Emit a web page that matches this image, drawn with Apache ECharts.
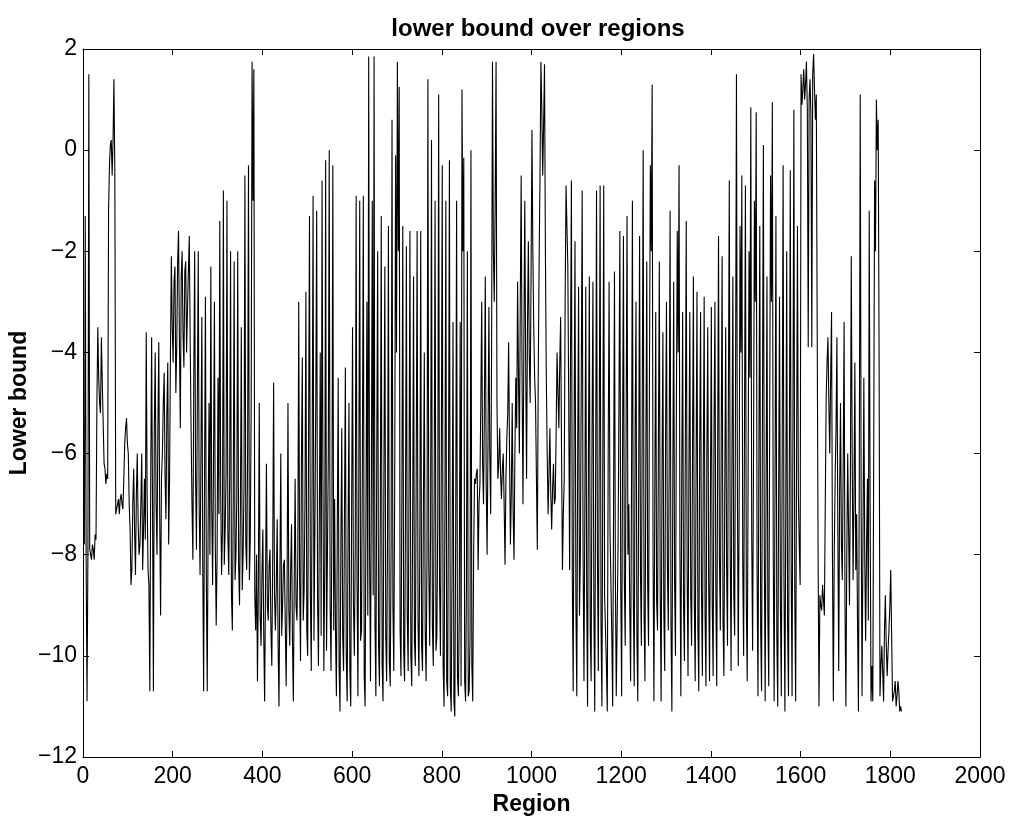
<!DOCTYPE html>
<html>
<head>
<meta charset="utf-8">
<script src="https://cdn.jsdelivr.net/npm/echarts@6/dist/echarts.min.js"></script>
<style>
html,body{margin:0;padding:0;background:#fff;}
#chart{width:1013px;height:821px;}
</style>
</head>
<body>
<div id="chart"></div>
<script>
// Region index of first sample and spacing between samples (regions)
const regionStart = 1;
const regionStep = 4;
// Lower bound values at regions 1, 5, 9, ...
const lowerBound = [
 -7.0,-1.3,-10.9,1.5,-8.0,-7.8,-8.1,-7.7,-3.5,-5.0,-3.7,-5.4,-6.3,-6.4,-1.2,0.1,-0.5,1.4,-7.2,-7.0,
 -7.2,-6.8,-7.1,-5.8,-5.3,-6.0,-7.5,-8.3,-6.3,-8.4,-6.0,-8.0,-7.0,-8.3,-6.5,-3.6,-8.3,-10.7,-3.7,-10.7,
 -4.0,-8.0,-3.8,-9.2,-6.0,-4.4,-7.3,-4.2,-6.5,-2.1,-4.2,-2.3,-3.9,-1.6,-5.5,-2.0,-4.3,-2.2,-3.1,-1.7,
 -5.5,-8.1,-2.0,-7.9,-2.0,-8.4,-3.3,-10.7,-2.9,-10.7,-5.0,-2.3,-8.6,-3.0,-9.4,-4.5,-1.4,-8.4,-0.8,-7.5,
 -1.0,-8.4,-2.0,-9.5,-2.2,-8.0,-2.0,-9.0,-3.5,-8.0,-0.5,-8.3,-0.3,-7.7,1.75,1.6,-9.5,-10.5,-5.0,-9.8,
 -7.5,-10.9,-6.2,-9.3,-7.9,-10.2,-4.6,-9.5,-7.3,-11.0,-6.0,-9.0,-8.1,-10.6,-5.0,-9.8,-7.4,-10.9,-6.5,-9.3,
 -3.0,-10.1,-4.1,-8.7,-2.8,-10.0,-1.3,-10.3,-0.9,-7.5,-1.2,-10.2,-4.0,-0.6,-10.3,-0.2,-8.0,0.0,-10.3,-0.3,
 -6.9,-10.8,-4.5,-11.1,-5.5,-10.3,-4.3,-10.9,-5.0,-11.0,-3.5,-10.0,-0.9,-10.8,-1.0,-9.5,-0.9,-11.0,-3.0,1.85,
 -10.5,-1.0,1.85,-10.8,-2.0,-10.6,-1.3,-10.9,-2.3,-10.5,-1.5,-10.6,0.6,-10.3,-0.1,1.75,1.25,-10.4,-1.5,-10.5,
 -1.9,-10.3,-1.6,-10.6,-2.5,-10.2,-1.6,-10.4,-1.6,-10.3,-4.0,-10.5,1.4,-9.8,0.2,-10.2,-1.0,-9.6,1.1,-10.0,
 -0.3,-11.0,-1.0,-10.8,-0.2,-11.1,-3.4,-11.2,-1.0,-10.8,-3.4,1.2,-0.15,-10.9,-2.0,-10.7,0.0,-10.9,-6.5,-6.4,
 -8.3,-6.6,-3.0,-7.0,-2.5,-8.0,-3.1,-7.2,1.75,-3.0,1.75,-6.5,-5.5,-6.9,-6.0,-8.2,-5.7,-3.8,-7.8,-5.0,
 -8.1,-4.5,-2.6,-6.0,-0.5,-7.0,-1.0,-6.5,-1.8,-5.0,0.4,-3.5,-5.0,-7.9,-2.2,1.75,-0.5,1.7,-4.5,-7.2,
 -5.5,-7.5,-6.2,-6.9,-4.0,-5.5,-3.3,-8.3,-6.5,-0.7,-2.3,-8.3,-0.6,-10.7,-1.8,-10.8,-2.7,-8.0,-0.8,-10.5,
 -2.7,-11.0,-2.5,-10.5,-2.6,-11.1,-0.8,-10.3,-0.7,-11.0,-0.7,-9.5,-11.1,-2.6,-8.5,-11.0,-2.4,-10.8,-7.8,-1.6,
 -10.8,-1.7,-9.8,-1.3,-7.0,-10.5,-1.0,-10.6,-3.0,-10.9,-1.7,-9.8,0.0,-10.5,-2.2,-9.8,-0.3,1.3,-10.9,-3.2,
 -9.5,-2.2,-10.9,-3.6,-10.3,-3.0,-9.5,-1.2,-11.1,-2.6,-10.0,-1.6,-0.3,-10.8,-3.2,-10.1,-1.4,-10.4,-3.2,-9.8,
 -2.5,-10.5,-2.8,-10.7,-3.2,-10.4,-2.9,-10.6,-3.5,-10.5,-3.1,-10.4,-3.0,-10.6,-1.7,-9.5,-2.1,-10.4,-3.5,-9.8,
 -0.6,-10.3,-2.5,-9.6,1.5,-10.2,-1.5,-0.5,-10.0,-0.7,-10.5,-2.0,0.85,-9.9,-1.0,0.75,-10.8,-1.5,-10.7,0.1,
 -10.9,-2.5,-10.6,-0.5,0.95,-10.9,-1.3,-11.0,-2.9,-10.8,-0.3,-11.1,-2.0,-10.8,-0.4,-10.8,0.8,-10.9,-1.5,-7.8,
 1.5,1.2,1.0,1.75,-3.9,1.4,-3.9,1.9,0.6,-3.5,-11.0,-9.0,-8.6,-9.2,-4.9,-3.7,-6.0,-3.2,-10.9,-6.5,
 -3.7,-10.3,-5.0,-8.5,-3.4,-11.0,-6.0,-9.0,-2.1,-8.5,-4.2,-7.2,-11.1,1.1,-10.8,-4.5,-9.7,-6.5,-1.2,-10.9,
 -10.9,-0.6,1.0,0.6,-10.8,-9.8,-10.9,-8.8,-10.4,-9.5,-8.3,-10.9,-10.7,-11.0,-10.5,-11.1,-11.1
];
// Lower bound values at the in-between regions 3, 7, 11, ...
const lowerBoundMid = [
 -7.8,-8.1,-7.9,-7.9,-8.1,-7.9,-7.6,-5.0,-4.5,-5.2,-4.6,-6.2,-6.6,-6.5,-0.3,0.2,0.2,-0.5,-7.1,-6.9,
 -6.9,-7.0,-6.5,-5.5,-5.8,-7.0,-8.6,-7.0,-7.5,-6.8,-7.4,-7.8,-6.0,-7.5,-7.7,-6.8,-8.6,-6.5,-7.0,-5.5,
 -7.0,-5.5,-7.2,-6.5,-5.0,-6.5,-5.2,-7.8,-4.0,-3.5,-2.6,-4.8,-2.2,-3.8,-2.5,-3.6,-2.4,-4.0,-2.4,-3.8,
 -7.0,-4.5,-6.5,-4.8,-7.0,-6.0,-8.2,-6.5,-8.5,-7.4,-8.0,-7.0,-6.2,-7.8,-8.0,-7.2,-6.8,-7.5,-8.2,-6.4,
 -7.6,-6.5,-8.8,-7.0,-8.5,-6.8,-8.2,-7.0,-8.7,-6.6,-7.8,-6.0,-8.5,-5.0,-1.0,-8.8,-8.0,-8.6,-9.2,-8.4,
 -9.6,-8.5,-9.0,-8.2,-9.5,-8.0,-8.8,-8.6,-9.8,-8.4,-9.6,-8.2,-9.4,-8.7,-9.1,-8.3,-9.7,-8.5,-9.0,-8.0,
 -8.5,-6.2,-9.3,-6.8,-9.5,-5.5,-8.8,-6.0,-9.7,-5.0,-8.9,-7.2,-9.6,-6.5,-8.2,-9.9,-6.0,-9.0,-7.4,-9.5,
 -9.5,-7.5,-10.2,-7.8,-9.6,-7.2,-10.0,-7.6,-10.3,-7.0,-9.0,-7.8,-8.5,-6.4,-9.7,-6.0,-10.4,-7.0,-9.2,-8.0,
 -6.5,-8.8,-9.4,-6.0,-9.8,-7.0,-10.2,-6.3,-9.6,-7.6,-10.1,-7.8,-9.0,-6.6,-4.0,-2.0,-9.5,-6.8,-9.9,-7.2,
 -9.2,-6.5,-10.0,-7.4,-9.7,-6.2,-9.3,-7.9,-9.8,-7.0,-9.5,-8.0,-8.2,-7.5,-9.4,-6.8,-9.9,-7.3,-8.6,-6.0,
 -10.2,-7.0,-10.5,-6.5,-10.6,-8.0,-10.9,-7.5,-10.4,-9.0,-10.6,-2.0,-10.5,-8.5,-10.8,-9.6,-10.2,-8.0,-6.6,-6.3,
 -7.0,-5.0,-6.2,-5.0,-6.6,-5.8,-6.0,-4.0,-2.0,-1.0,-5.0,-6.2,-6.4,-6.3,-7.0,-6.5,-5.2,-6.0,-6.8,-7.1,
 -6.0,-5.5,-4.5,-3.0,-4.5,-3.8,-4.2,-3.5,-4.0,-2.5,-2.0,-4.5,-6.5,-4.5,-0.5,0.8,0.5,-2.0,-6.0,-6.4,
 -6.8,-6.7,-7.0,-5.5,-4.8,-4.2,-6.0,-7.2,-3.0,-1.5,-5.0,-4.0,-8.5,-5.5,-9.0,-6.0,-9.2,-4.5,-8.0,-7.0,
 -8.6,-6.0,-9.5,-5.6,-9.0,-6.4,-8.0,-5.8,-9.4,-6.2,-8.8,-10.2,-6.0,-7.5,-9.6,-7.0,-8.4,-9.3,-5.0,-8.6,
 -6.0,-8.5,-5.4,-8.0,-9.0,-6.6,-8.8,-5.7,-9.6,-6.5,-8.4,-5.0,-9.2,-6.0,-8.6,-4.5,-2.0,-8.0,-6.6,-8.9,
 -5.8,-8.7,-6.4,-9.1,-5.5,-8.2,-6.0,-9.4,-6.8,-8.5,-5.2,-4.0,-8.0,-6.5,-9.0,-5.8,-8.3,-6.3,-8.8,-6.0,
 -8.9,-6.2,-9.4,-5.9,-8.7,-6.4,-9.2,-6.0,-8.5,-6.8,-9.0,-5.5,-8.8,-6.1,-8.0,-5.8,-9.3,-6.6,-8.2,-5.0,
 -7.8,-6.0,-8.8,-4.5,-6.5,-7.0,-4.0,-8.2,-5.2,-9.0,-6.4,-4.5,-7.6,-6.2,-3.0,-8.4,-6.0,-9.5,-5.0,-7.7,
 -6.8,-9.2,-5.6,-3.0,-8.0,-6.5,-9.6,-6.9,-9.0,-5.8,-8.6,-7.0,-9.4,-6.0,-8.3,-5.2,-8.8,-6.2,-6.8,-8.6,
 0.9,1.6,1.3,0.8,1.0,0.7,1.5,1.2,1.1,-8.0,-8.8,-9.1,-8.9,-7.0,-4.2,-5.0,-4.5,-8.0,-8.0,-5.5,
 -7.5,-6.8,-7.8,-6.2,-9.0,-8.0,-7.5,-6.5,-6.0,-6.8,-8.3,-9.4,-6.0,-7.0,-7.8,-8.0,-7.9,-9.3,-7.0,-10.2,
 -6.0,-2.0,0.0,-4.0,-10.2,-10.3,-9.5,-9.8,-9.9,-9.0,-9.6,-10.8,-10.5,-10.8,-10.7,-11.0
];
// Axis tick values
const xTicks = [0,200,400,600,800,1000,1200,1400,1600,1800,2000];
const yTicks = [2,0,-2,-4,-6,-8,-10,-12];

const seriesData = [];
lowerBound.forEach((v, i) => {
  seriesData.push([regionStart + i * regionStep, v]);
  if (i < lowerBoundMid.length) {
    seriesData.push([regionStart + i * regionStep + regionStep / 2, lowerBoundMid[i]]);
  }
});

const FONT = '"Liberation Sans", Arial, Helvetica, sans-serif';
const fmt = v => String(v).replace('-', '\u2212');

const chart = echarts.init(document.getElementById('chart'), null, {renderer: 'canvas'});
const baseX = {
  type: 'value', min: xTicks[0], max: xTicks[xTicks.length-1], interval: 200,
  axisLine: {show: true, onZero: false, lineStyle: {color: '#000', width: 1}},
  axisTick: {show: true, inside: true, length: 6, lineStyle: {color: '#000'}},
  splitLine: {show: false}
};
const baseY = {
  type: 'value', min: yTicks[yTicks.length-1], max: yTicks[0], interval: 2,
  axisLine: {show: true, onZero: false, lineStyle: {color: '#000', width: 1}},
  axisTick: {show: true, inside: true, length: 6, lineStyle: {color: '#000'}},
  splitLine: {show: false}
};
chart.setOption({
  animation: false,
  backgroundColor: '#fff',
  title: {
    text: 'lower bound over regions',
    left: 533, top: 12, textAlign: 'center',
    textStyle: {fontFamily: FONT, fontSize: 24, fontWeight: 'bold', color: '#000'}
  },
  grid: {left: 83, right: 33, top: 49, bottom: 64, containLabel: false, outerBoundsMode: 'none'},
  xAxis: [
    Object.assign({}, baseX, {
      position: 'bottom',
      name: 'Region', nameLocation: 'middle', nameGap: 35,
      nameTextStyle: {fontFamily: FONT, fontSize: 23, fontWeight: 'bold', color: '#000'},
      axisLabel: {show: true, margin: 8, fontFamily: FONT, fontSize: 23, color: '#000', formatter: fmt}
    }),
    Object.assign({}, baseX, {position: 'top', axisLabel: {show: false}})
  ],
  yAxis: [
    Object.assign({}, baseY, {
      position: 'left',
      name: 'Lower bound', nameLocation: 'middle', nameGap: 52, nameMoveOverlap: false,
      nameTextStyle: {fontFamily: FONT, fontSize: 23, fontWeight: 'bold', color: '#000'},
      axisLabel: {show: true, margin: 6, fontFamily: FONT, fontSize: 23, color: '#000', formatter: fmt}
    }),
    Object.assign({}, baseY, {position: 'right', axisLabel: {show: false}})
  ],
  series: [{
    type: 'line',
    data: seriesData,
    xAxisIndex: 0, yAxisIndex: 0,
    showSymbol: false,
    symbol: 'none',
    sampling: null,
    lineStyle: {color: '#000', width: 1.1},
    emphasis: {disabled: true}
  }]
});
</script>
</body>
</html>
